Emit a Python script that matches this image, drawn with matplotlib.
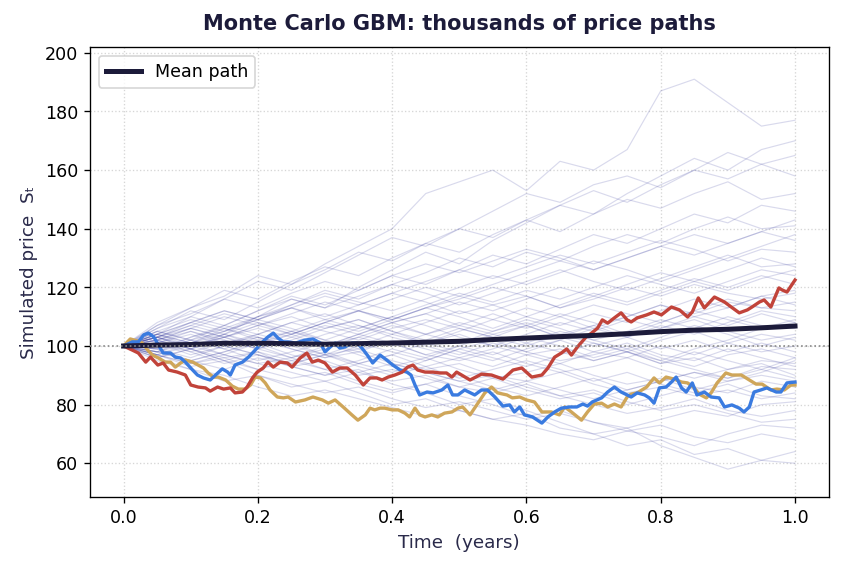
import matplotlib

matplotlib.use("Agg")
import matplotlib.pyplot as plt
import numpy as np

# background paths share one coarse time grid (every 0.05 years)
GRID_T = [i / 20 for i in range(21)]
BACKGROUND_PATHS = [
    [100, 97, 93, 95, 90, 86, 88, 84, 80, 82, 78, 75, 77, 72, 70, 66, 68, 63, 65, 61, 60],
    [100, 103, 99, 96, 98, 93, 90, 92, 87, 84, 80, 82, 78, 74, 70, 72, 66, 62, 58, 61, 64],
    [100, 98, 101, 97, 94, 96, 92, 88, 85, 87, 83, 80, 76, 78, 74, 71, 73, 69, 67, 70, 68],
    [100, 96, 92, 90, 86, 83, 85, 82, 79, 76, 78, 75, 73, 70, 68, 71, 69, 66, 70, 73, 72],
    [100, 102, 105, 101, 103, 99, 96, 98, 94, 91, 88, 90, 86, 83, 85, 81, 78, 80, 77, 74, 75],
    [100, 99, 95, 98, 101, 97, 94, 90, 92, 89, 86, 84, 87, 83, 80, 77, 79, 82, 78, 76, 78],
    [100, 95, 92, 88, 90, 87, 84, 86, 82, 79, 81, 78, 75, 77, 74, 72, 75, 78, 76, 80, 81],
    [100, 104, 101, 106, 103, 100, 97, 99, 95, 92, 94, 90, 88, 91, 87, 84, 86, 83, 85, 82, 84],
    [100, 101, 98, 94, 97, 93, 95, 91, 88, 90, 86, 89, 85, 82, 84, 80, 83, 86, 84, 88, 86],
    [100, 98, 102, 99, 95, 98, 101, 97, 93, 96, 92, 89, 91, 94, 90, 87, 89, 85, 88, 90, 88],
    [100, 103, 107, 104, 108, 105, 102, 99, 101, 97, 95, 98, 94, 91, 93, 96, 92, 89, 92, 94, 90],
    [100, 97, 94, 96, 92, 89, 91, 87, 84, 87, 90, 86, 83, 86, 89, 85, 88, 91, 89, 93, 92],
    [100, 102, 99, 103, 107, 110, 106, 109, 105, 101, 104, 100, 97, 99, 95, 98, 94, 96, 92, 95, 94],
    [100, 99, 96, 100, 97, 94, 97, 101, 98, 95, 99, 102, 98, 95, 97, 100, 96, 93, 97, 99, 96],
    [100, 104, 108, 105, 110, 113, 109, 112, 108, 111, 107, 104, 107, 103, 100, 103, 99, 102, 98, 101, 98],
    [100, 96, 99, 95, 92, 95, 98, 94, 97, 101, 98, 95, 99, 102, 98, 96, 100, 97, 101, 98, 100],
    [100, 103, 100, 97, 101, 104, 100, 103, 107, 104, 101, 105, 108, 104, 101, 98, 102, 105, 101, 104, 102],
    [100, 101, 105, 102, 99, 102, 106, 109, 105, 102, 106, 103, 100, 104, 107, 103, 106, 109, 105, 102, 104],
    [100, 97, 101, 104, 100, 96, 99, 103, 100, 104, 108, 105, 109, 106, 102, 105, 109, 106, 110, 107, 106],
    [100, 102, 98, 101, 104, 108, 105, 102, 106, 109, 106, 103, 107, 111, 108, 104, 108, 112, 109, 106, 108],
    [100, 105, 102, 99, 103, 100, 104, 107, 103, 100, 97, 101, 98, 102, 106, 103, 107, 104, 108, 112, 110],
    [100, 99, 103, 107, 104, 108, 111, 107, 104, 108, 112, 109, 113, 110, 106, 110, 114, 111, 115, 113, 112],
    [100, 98, 95, 98, 102, 99, 96, 100, 104, 101, 105, 109, 106, 110, 114, 111, 108, 112, 116, 113, 115],
    [100, 104, 108, 112, 109, 113, 110, 114, 118, 115, 111, 114, 117, 113, 116, 120, 117, 121, 118, 116, 118],
    [100, 102, 106, 103, 107, 104, 108, 112, 109, 113, 117, 114, 110, 114, 118, 115, 119, 123, 120, 124, 121],
    [100, 103, 100, 104, 101, 105, 109, 106, 110, 114, 118, 115, 119, 116, 120, 124, 121, 118, 122, 126, 124],
    [100, 106, 110, 107, 112, 116, 113, 117, 121, 118, 114, 118, 122, 126, 122, 119, 123, 127, 131, 127, 128],
    [100, 104, 101, 105, 109, 113, 117, 114, 118, 122, 126, 123, 127, 131, 128, 132, 136, 133, 129, 133, 132],
    [100, 107, 111, 116, 113, 118, 122, 119, 124, 128, 125, 129, 133, 130, 126, 130, 134, 138, 135, 139, 136],
    [100, 103, 108, 112, 109, 114, 119, 116, 121, 125, 130, 127, 132, 129, 134, 138, 135, 140, 144, 140, 141],
    [100, 105, 102, 107, 112, 117, 114, 119, 124, 121, 126, 131, 128, 133, 138, 135, 140, 145, 142, 148, 146],
    [100, 108, 113, 119, 116, 122, 127, 124, 130, 135, 132, 138, 143, 139, 145, 150, 147, 152, 156, 150, 152],
    [100, 106, 112, 109, 115, 121, 126, 132, 129, 135, 140, 137, 143, 148, 153, 149, 155, 160, 157, 162, 158],
    [100, 104, 110, 116, 122, 119, 125, 131, 137, 134, 140, 146, 152, 149, 155, 158, 154, 160, 166, 162, 165],
    [100, 107, 113, 117, 124, 121, 128, 134, 140, 152, 156, 160, 153, 163, 160, 167, 187, 191, 183, 175, 177],
    [100, 103, 99, 104, 110, 116, 113, 120, 126, 132, 128, 136, 142, 148, 145, 152, 158, 164, 160, 167, 170],
    [100, 98, 103, 106, 102, 105, 101, 98, 102, 99, 96, 93, 97, 94, 98, 101, 97, 95, 99, 96, 93],
    [100, 104, 100, 103, 99, 96, 100, 104, 108, 104, 107, 111, 107, 103, 107, 110, 114, 110, 113, 117, 119],
    [100, 101, 97, 100, 104, 101, 97, 94, 97, 93, 96, 99, 103, 100, 96, 99, 95, 92, 89, 92, 89],
    [100, 103, 107, 111, 108, 104, 108, 105, 109, 113, 110, 106, 110, 107, 111, 108, 112, 116, 113, 117, 114],
    [100, 97, 100, 103, 106, 103, 107, 104, 108, 111, 115, 112, 116, 120, 117, 121, 125, 122, 126, 130, 127],
    [100, 102, 99, 95, 98, 95, 92, 95, 99, 96, 100, 97, 101, 105, 102, 99, 103, 107, 104, 100, 103],
    [100, 96, 99, 102, 99, 103, 100, 104, 101, 97, 100, 104, 101, 98, 95, 98, 95, 99, 102, 106, 109],
    [100, 105, 109, 106, 110, 114, 118, 115, 112, 116, 120, 124, 121, 125, 129, 126, 122, 126, 130, 134, 138],
    [100, 101, 104, 100, 97, 94, 97, 93, 90, 93, 89, 92, 95, 92, 88, 91, 87, 84, 87, 83, 82],
    [100, 99, 102, 105, 109, 106, 102, 106, 110, 107, 103, 100, 104, 108, 105, 109, 106, 110, 107, 111, 108],
    [100, 103, 106, 103, 100, 104, 108, 112, 109, 113, 116, 120, 117, 113, 117, 114, 118, 122, 119, 123, 126],
    [100, 98, 95, 92, 96, 93, 90, 94, 91, 95, 99, 96, 93, 97, 101, 98, 94, 98, 95, 92, 96],
    [100, 102, 106, 110, 107, 111, 115, 112, 116, 120, 117, 121, 125, 129, 126, 130, 134, 131, 135, 139, 143],
    [100, 97, 94, 97, 94, 91, 88, 91, 94, 91, 88, 85, 88, 85, 82, 85, 88, 91, 88, 91, 95],
]

RED_T = [0.000, 0.013, 0.022, 0.033, 0.040, 0.051, 0.059, 0.067, 0.080, 0.092, 0.100, 0.111,
         0.122, 0.129, 0.140, 0.149, 0.159, 0.166, 0.177, 0.184, 0.192, 0.199, 0.208, 0.215,
         0.223, 0.233, 0.244, 0.251, 0.263, 0.273, 0.281, 0.290, 0.300, 0.311, 0.322, 0.333,
         0.345, 0.357, 0.367, 0.377, 0.385, 0.394, 0.404, 0.415, 0.423, 0.431, 0.438, 0.449,
         0.461, 0.471, 0.481, 0.489, 0.496, 0.516, 0.533, 0.548, 0.565, 0.580, 0.593, 0.608,
         0.623, 0.632, 0.642, 0.652, 0.660, 0.667, 0.676, 0.689, 0.697, 0.706, 0.713, 0.721,
         0.731, 0.741, 0.750, 0.756, 0.765, 0.779, 0.790, 0.801, 0.816, 0.828, 0.840, 0.847,
         0.856, 0.865, 0.880, 0.895, 0.905, 0.917, 0.929, 0.936, 0.947, 0.954, 0.964, 0.976,
         0.981, 0.988, 1.000]
RED_S = [100.0, 98.6, 97.6, 94.5, 96.2, 93.5, 94.2, 91.8, 91.1, 90.1, 86.7, 86.0,
         85.7, 84.6, 86.0, 85.3, 85.7, 84.0, 84.3, 86.0, 89.1, 91.1, 92.5, 94.5,
         92.8, 94.5, 94.2, 92.8, 95.9, 97.6, 94.5, 95.2, 94.2, 91.1, 92.5, 92.5,
         90.1, 86.7, 89.1, 89.1, 88.4, 89.4, 90.1, 91.1, 92.8, 93.5, 91.8, 91.1,
         91.1, 90.8, 90.8, 89.4, 91.1, 88.4, 90.4, 90.1, 88.7, 91.8, 92.5, 89.4,
         90.1, 92.5, 96.2, 97.6, 99.0, 96.9, 99.7, 103.1, 104.4, 106.1, 108.9, 107.8,
         109.6, 111.3, 108.9, 108.2, 109.6, 110.6, 111.6, 110.6, 113.3, 112.3, 109.9, 111.6,
         116.4, 113.0, 116.7, 115.0, 113.3, 111.3, 112.3, 113.3, 115.0, 115.7, 113.3, 119.8,
         119.1, 118.4, 122.5]

BLUE_T = [0.000, 0.013, 0.022, 0.030, 0.037, 0.045, 0.052, 0.059, 0.070, 0.077, 0.085, 0.092,
          0.100, 0.110, 0.119, 0.129, 0.137, 0.147, 0.155, 0.159, 0.166, 0.177, 0.186, 0.196,
          0.207, 0.215, 0.223, 0.230, 0.238, 0.245, 0.256, 0.270, 0.282, 0.293, 0.300, 0.308,
          0.315, 0.322, 0.330, 0.340, 0.348, 0.355, 0.363, 0.371, 0.382, 0.392, 0.401, 0.412,
          0.422, 0.428, 0.434, 0.441, 0.452, 0.461, 0.474, 0.483, 0.490, 0.498, 0.508, 0.523,
          0.533, 0.542, 0.553, 0.565, 0.575, 0.582, 0.590, 0.597, 0.609, 0.623, 0.632, 0.642,
          0.652, 0.664, 0.675, 0.684, 0.691, 0.698, 0.712, 0.721, 0.731, 0.741, 0.750, 0.756,
          0.765, 0.776, 0.783, 0.790, 0.798, 0.808, 0.816, 0.823, 0.831, 0.838, 0.847, 0.854,
          0.865, 0.875, 0.887, 0.895, 0.906, 0.917, 0.924, 0.932, 0.939, 0.949, 0.958, 0.972,
          0.979, 0.988, 1.000]
BLUE_S = [100.0, 101.4, 101.4, 103.8, 104.4, 103.1, 100.3, 97.6, 97.6, 96.2, 95.9, 94.5,
          92.5, 90.1, 89.1, 88.4, 90.1, 92.2, 91.1, 90.1, 93.5, 94.5, 96.2, 98.6,
          101.4, 103.1, 104.4, 102.7, 101.4, 101.4, 101.0, 102.0, 102.4, 101.0, 98.0, 99.7,
          101.0, 99.3, 99.7, 101.0, 101.0, 99.3, 96.9, 94.2, 96.9, 95.2, 93.5, 91.8,
          91.1, 90.1, 86.7, 83.3, 84.3, 84.0, 85.0, 86.7, 83.3, 83.3, 85.0, 83.3,
          85.0, 85.0, 82.6, 79.5, 79.9, 77.5, 79.2, 76.5, 75.8, 73.7, 75.8, 77.5,
          78.8, 79.2, 79.2, 80.2, 79.5, 80.9, 82.3, 84.3, 86.0, 84.3, 83.3, 82.6,
          84.0, 83.3, 82.3, 80.5, 85.7, 86.0, 87.7, 89.4, 85.7, 84.3, 87.4, 83.3,
          84.3, 82.6, 82.3, 79.2, 79.9, 78.8, 77.5, 79.2, 84.3, 85.0, 85.7, 84.3,
          84.3, 87.4, 87.7]

GOLD_T = [0.000, 0.010, 0.021, 0.028, 0.036, 0.043, 0.052, 0.062, 0.070, 0.077, 0.085, 0.092,
          0.103, 0.111, 0.119, 0.126, 0.134, 0.141, 0.152, 0.162, 0.171, 0.181, 0.189, 0.196,
          0.204, 0.211, 0.218, 0.229, 0.238, 0.245, 0.256, 0.270, 0.282, 0.296, 0.305, 0.315,
          0.327, 0.340, 0.349, 0.360, 0.367, 0.374, 0.382, 0.389, 0.400, 0.409, 0.419, 0.426,
          0.434, 0.441, 0.449, 0.459, 0.468, 0.478, 0.489, 0.498, 0.505, 0.516, 0.526, 0.538,
          0.548, 0.557, 0.571, 0.579, 0.590, 0.600, 0.612, 0.623, 0.637, 0.649, 0.657, 0.667,
          0.682, 0.691, 0.701, 0.712, 0.721, 0.731, 0.741, 0.750, 0.756, 0.765, 0.779, 0.790,
          0.798, 0.808, 0.820, 0.831, 0.840, 0.850, 0.857, 0.868, 0.875, 0.884, 0.897, 0.906,
          0.920, 0.932, 0.942, 0.951, 0.964, 0.973, 0.984, 0.994, 1.000]
GOLD_S = [100.0, 102.4, 101.7, 101.0, 98.6, 96.9, 95.9, 94.5, 94.5, 92.8, 94.2, 95.2,
          94.5, 93.5, 92.5, 90.8, 89.4, 89.4, 88.4, 86.3, 85.3, 85.3, 86.7, 89.4,
          89.1, 87.4, 85.0, 82.6, 82.3, 82.6, 80.9, 81.6, 82.6, 81.6, 80.5, 81.6,
          79.2, 76.5, 74.7, 76.5, 78.8, 78.2, 78.8, 78.8, 78.2, 78.2, 77.1, 75.8,
          78.8, 76.5, 75.8, 76.5, 75.8, 77.1, 77.5, 78.8, 79.2, 76.5, 79.9, 84.0,
          86.0, 84.0, 83.3, 82.3, 82.6, 81.6, 80.9, 77.5, 77.5, 76.5, 79.2, 77.5,
          74.7, 77.5, 80.2, 80.5, 79.2, 80.2, 79.2, 82.6, 83.6, 84.0, 86.0, 89.1,
          87.4, 89.4, 88.7, 87.7, 87.4, 85.7, 83.6, 82.3, 84.0, 87.4, 90.8, 90.1,
          90.1, 88.4, 87.0, 87.0, 85.0, 85.3, 85.0, 86.7, 86.7]

MEAN_T = [i / 20 for i in range(21)]
MEAN_S = [100.0, 100.3, 100.5, 100.9, 100.9, 100.8, 100.6, 100.8, 101.0, 101.3, 101.6,
          102.2, 102.7, 103.2, 103.6, 104.2, 104.9, 105.4, 105.7, 106.2, 106.8]

S0 = 100
NAVY = "#1c1b3a"

fig = plt.figure(figsize=(7.01, 4.735), dpi=120)
ax = fig.add_axes([0.107, 0.125, 0.878, 0.792])

for path in BACKGROUND_PATHS:
    ax.plot(GRID_T, path, color="#4044a3", alpha=0.2, linewidth=0.7, zorder=1)

ax.plot(GOLD_T, GOLD_S, color="#cfa65a", linewidth=2.0, zorder=3)
ax.plot(BLUE_T, BLUE_S, color="#3a7be0", linewidth=2.0, zorder=3)
ax.plot(RED_T, RED_S, color="#c1433a", linewidth=2.0, zorder=3)
ax.plot(MEAN_T, MEAN_S, color=NAVY, linewidth=3.0, label="Mean path", zorder=4)
ax.axhline(S0, color="#888888", linestyle=":", linewidth=1.0, zorder=5)

ax.set_xlim(-0.05, 1.05)
ax.set_ylim(48.5, 202)
ax.set_yticks(np.arange(60, 201, 20))
ax.grid(True, linestyle=":", color="#cccccc", linewidth=0.8, alpha=0.8)
ax.set_axisbelow(True)

ax.set_title("Monte Carlo GBM: thousands of price paths", fontsize=12.5,
             fontweight="bold", color=NAVY, pad=10)
ax.set_xlabel("Time  (years)", fontsize=11, color="#2a2a4a")
ax.set_ylabel("Simulated price  Sₜ", fontsize=11, color="#2a2a4a")
ax.tick_params(labelsize=10.5)
ax.legend(loc="upper left", fontsize=10.5)

fig.savefig("out.png", dpi=120)
